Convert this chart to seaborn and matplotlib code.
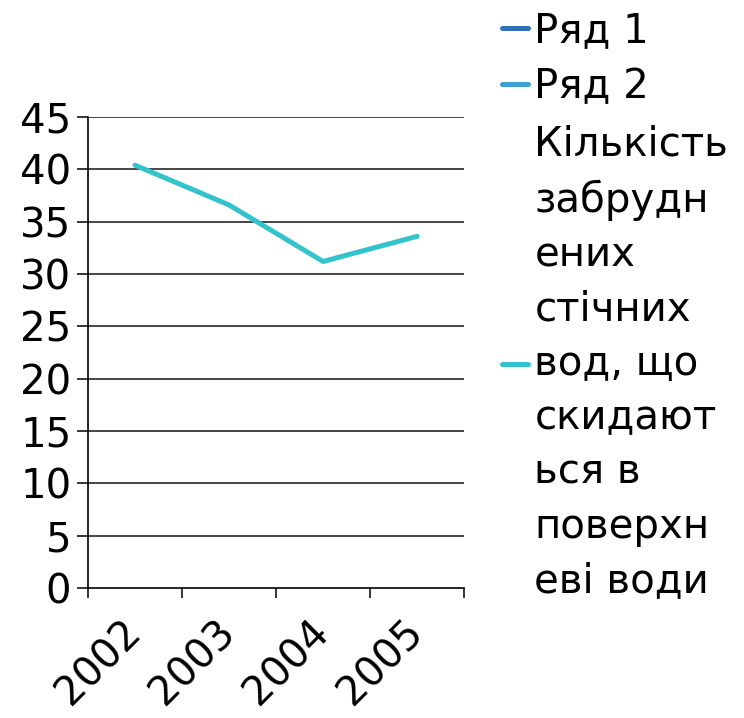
import matplotlib
matplotlib.use("Agg")
import matplotlib.pyplot as plt
from matplotlib.lines import Line2D
import seaborn as sns
import pandas as pd

years = ["2002", "2003", "2004", "2005"]
wastewater = [40.4, 36.6, 31.2, 33.6]
series_names = ["Ряд 1", "Ряд 2",
                "Кількість\nзабрудн\nених\nстічних\nвод, що\nскидают\nься в\nповерхн\nеві води"]
series_colors = ["#2f6eba", "#3d9fd3", "#33c3cc"]
y_ticks = list(range(0, 50, 5))

sns.set_theme(style="white")
plt.rcParams["font.family"] = ["DejaVu Sans"]
plt.rcParams["text.color"] = "black"
plt.rcParams["xtick.color"] = "black"
plt.rcParams["ytick.color"] = "black"

FS = 29

fig = plt.figure(figsize=(7.44, 7.18), dpi=100)
ax = fig.add_axes([0.1183, 0.181, 0.5054, 0.656])

df = pd.DataFrame({"year": years, "value": wastewater})
sns.lineplot(data=df, x="year", y="value", ax=ax, color=series_colors[2],
             linewidth=3.6, sort=False, legend=False)

ax.set_xlim(-0.5, 3.5)
ax.set_ylim(0, 45)
ax.set_yticks(y_ticks)
ax.set_yticklabels([str(v) for v in y_ticks], fontsize=FS)
ax.set_xticks(range(len(years)))
ax.set_xticklabels(years, fontsize=FS, rotation=45, ha="right",
                   va="center", rotation_mode="anchor")
ax.set_xticks([-0.5, 0.5, 1.5, 2.5, 3.5], minor=True)
ax.tick_params(axis="x", which="major", length=0, pad=28)
ax.tick_params(axis="x", which="minor", length=7.5, width=1.1, color="black",
               direction="out", bottom=True)
ax.tick_params(axis="y", length=8, width=1.1, color="black", direction="out",
               left=True, pad=4)
ax.set_xlabel("")
ax.set_ylabel("")

ax.grid(False)
for v in y_ticks[1:]:
    ax.axhline(v, color="#262626", linewidth=1.2, zorder=0)

for side in ["top", "right"]:
    ax.spines[side].set_visible(False)
for side in ["left", "bottom"]:
    ax.spines[side].set_color("black")
    ax.spines[side].set_linewidth(1.2)

handles = [Line2D([], [], color=c, linewidth=3.6) for c in series_colors]
legend_style = dict(loc="upper left", frameon=False, fontsize=FS,
                    handlelength=0.65, handletextpad=0.15, labelspacing=0.38,
                    borderaxespad=0.0, borderpad=0.0)

# two short series names at the top
leg_top = fig.legend(handles[:2], series_names[:2],
                     bbox_to_anchor=(0.675, 0.984), **legend_style)
# long wrapped name of the plotted series below them
leg_main = fig.legend(handles[2:], series_names[2:],
                      bbox_to_anchor=(0.675, 0.826), **legend_style)
for t in leg_main.get_texts():
    t.set_linespacing(1.46)

fig.savefig("out.png", dpi=100, facecolor="white")
